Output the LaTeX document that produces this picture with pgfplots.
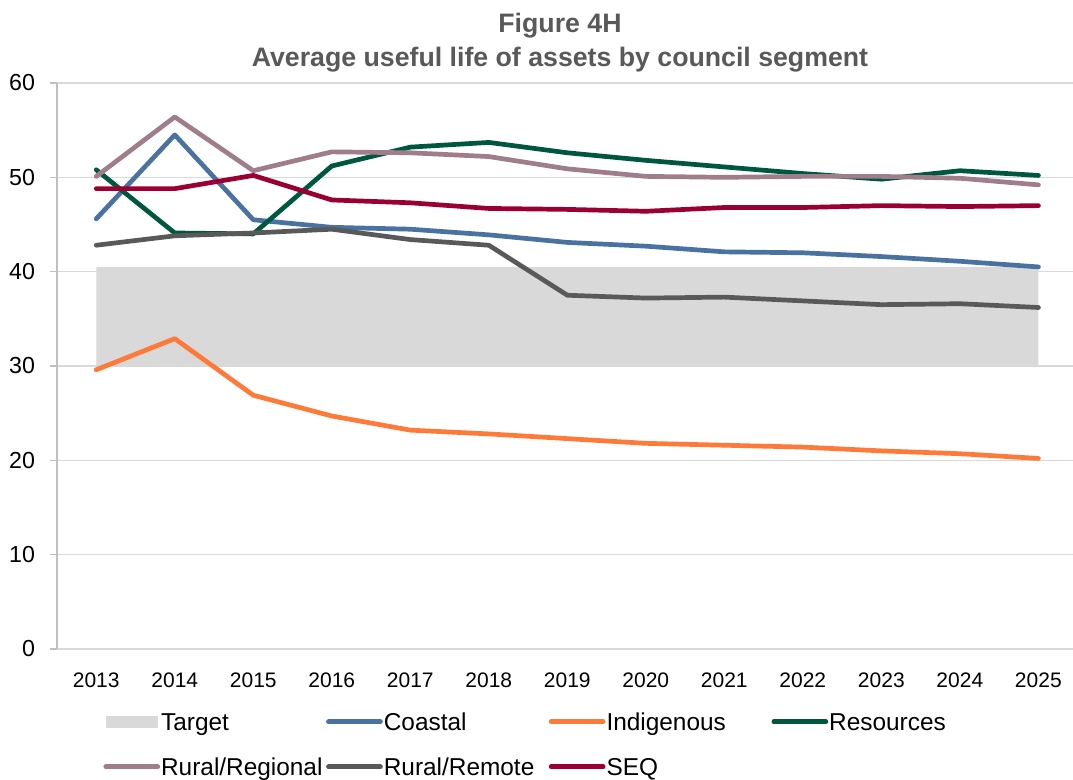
\documentclass[border=0pt]{standalone}
\usepackage{fontspec}
\setmainfont{Liberation Sans}
\usepackage{pgfplots}
\usepackage{pgfplotstable}
\pgfplotsset{compat=1.18}

\definecolor{coastal}{HTML}{4A72A0}
\definecolor{indig}{HTML}{FD7A38}
\definecolor{resources}{HTML}{00573F}
\definecolor{ruralreg}{HTML}{A07D8B}
\definecolor{ruralrem}{HTML}{595959}
\definecolor{seq}{HTML}{9B0032}
\definecolor{target}{HTML}{D9D9D9}
\definecolor{titlegray}{HTML}{595959}
\definecolor{gridgray}{HTML}{D9D9D9}
\definecolor{axisgray}{HTML}{BFBFBF}

% average useful life (years) by council segment
\pgfplotstableread{
year coastal indig resources ruralreg ruralrem seq
2013 45.6 29.6 50.8 50.1 42.8 48.8
2014 54.5 32.9 44.1 56.4 43.8 48.8
2015 45.5 26.9 44.0 50.7 44.1 50.2
2016 44.7 24.7 51.2 52.7 44.5 47.6
2017 44.5 23.2 53.2 52.6 43.4 47.3
2018 43.9 22.8 53.7 52.2 42.8 46.7
2019 43.1 22.3 52.6 50.9 37.5 46.6
2020 42.7 21.8 51.8 50.1 37.2 46.4
2021 42.1 21.6 51.1 50.0 37.3 46.8
2022 42.0 21.4 50.4 50.1 36.9 46.8
2023 41.6 21.0 49.8 50.1 36.5 47.0
2024 41.1 20.7 50.7 49.9 36.6 46.9
2025 40.5 20.2 50.2 49.2 36.2 47.0
}\lifedata

\begin{document}
\begin{tikzpicture}
\begin{axis}[
    at={(0pt,0pt)}, anchor=south west,
    scale only axis,
    width=508pt, height=283pt,
    xmin=2012.5, xmax=2025.44,
    ymin=0, ymax=60,
    ytick={0,10,...,60},
    xtick={2013,...,2025},
    x tick label style={/pgf/number format/1000 sep={}},
    /pgf/number format/assume math mode=true,
    axis lines*=left,
    x axis line style={draw=gridgray, line width=0.75pt},
    y axis line style={draw=axisgray, line width=0.75pt},
    ymajorgrids,
    major grid style={draw=gridgray, line width=0.75pt},
    xtick style={draw=none},
    ytick style={draw=axisgray, line width=0.75pt},
    tick align=outside,
    major tick length=3.5pt,
    xticklabel style={font=\fontsize{10.5}{12}\selectfont, yshift=-5pt},
    yticklabel style={font=\fontsize{11.6}{13}\selectfont, xshift=-4pt},
    every axis plot/.append style={line width=2.35pt, line cap=round, line join=round},
    legend image code/.code={\draw[#1] (0pt,0pt) -- (26pt,0pt);},
    legend columns=4,
    legend style={
        draw=none, fill=none, inner sep=0pt,
        at={(0.0453,-0.105)}, anchor=north west,
        row sep=9.5pt,
        /tikz/every odd column/.append style={column sep=0.5pt},
        /tikz/every even column/.append style={column sep=3.5pt},
        nodes={font=\fontsize{12.2}{14}\selectfont, text width=79pt, align=left,
               text height=11pt, text depth=2pt, inner sep=0pt},
    },
]
\addplot[fill=target, draw=none, line width=0pt,
    legend image code/.code={\fill[target] (0pt,-3pt) rectangle (26pt,3pt);}]
    coordinates {(2013,30) (2013,40.5) (2025,40.5) (2025,30) (2013,30)};
\addlegendentry{Target}
\addplot[coastal] table[x=year, y=coastal] {\lifedata};
\addlegendentry{Coastal}
\addplot[indig] table[x=year, y=indig] {\lifedata};
\addlegendentry{Indigenous}
\addplot[resources] table[x=year, y=resources] {\lifedata};
\addlegendentry{Resources}
\addplot[ruralreg] table[x=year, y=ruralreg] {\lifedata};
\addlegendentry{Rural/Regional}
\addplot[ruralrem] table[x=year, y=ruralrem] {\lifedata};
\addlegendentry{Rural/Remote}
\addplot[seq] table[x=year, y=seq] {\lifedata};
\addlegendentry{SEQ}
\end{axis}
\node[anchor=base, font=\bfseries\fontsize{13.35}{15}\selectfont, text=titlegray]
    at (251.5pt,308.2pt) {Figure 4H};
\node[anchor=base, font=\bfseries\fontsize{13.35}{15}\selectfont, text=titlegray]
    at (251.5pt,291.2pt) {Average useful life of assets by council segment};
\pgfresetboundingbox
\path (-28.5pt,-65.5pt) rectangle (508pt,324.5pt);
\end{tikzpicture}
\end{document}
